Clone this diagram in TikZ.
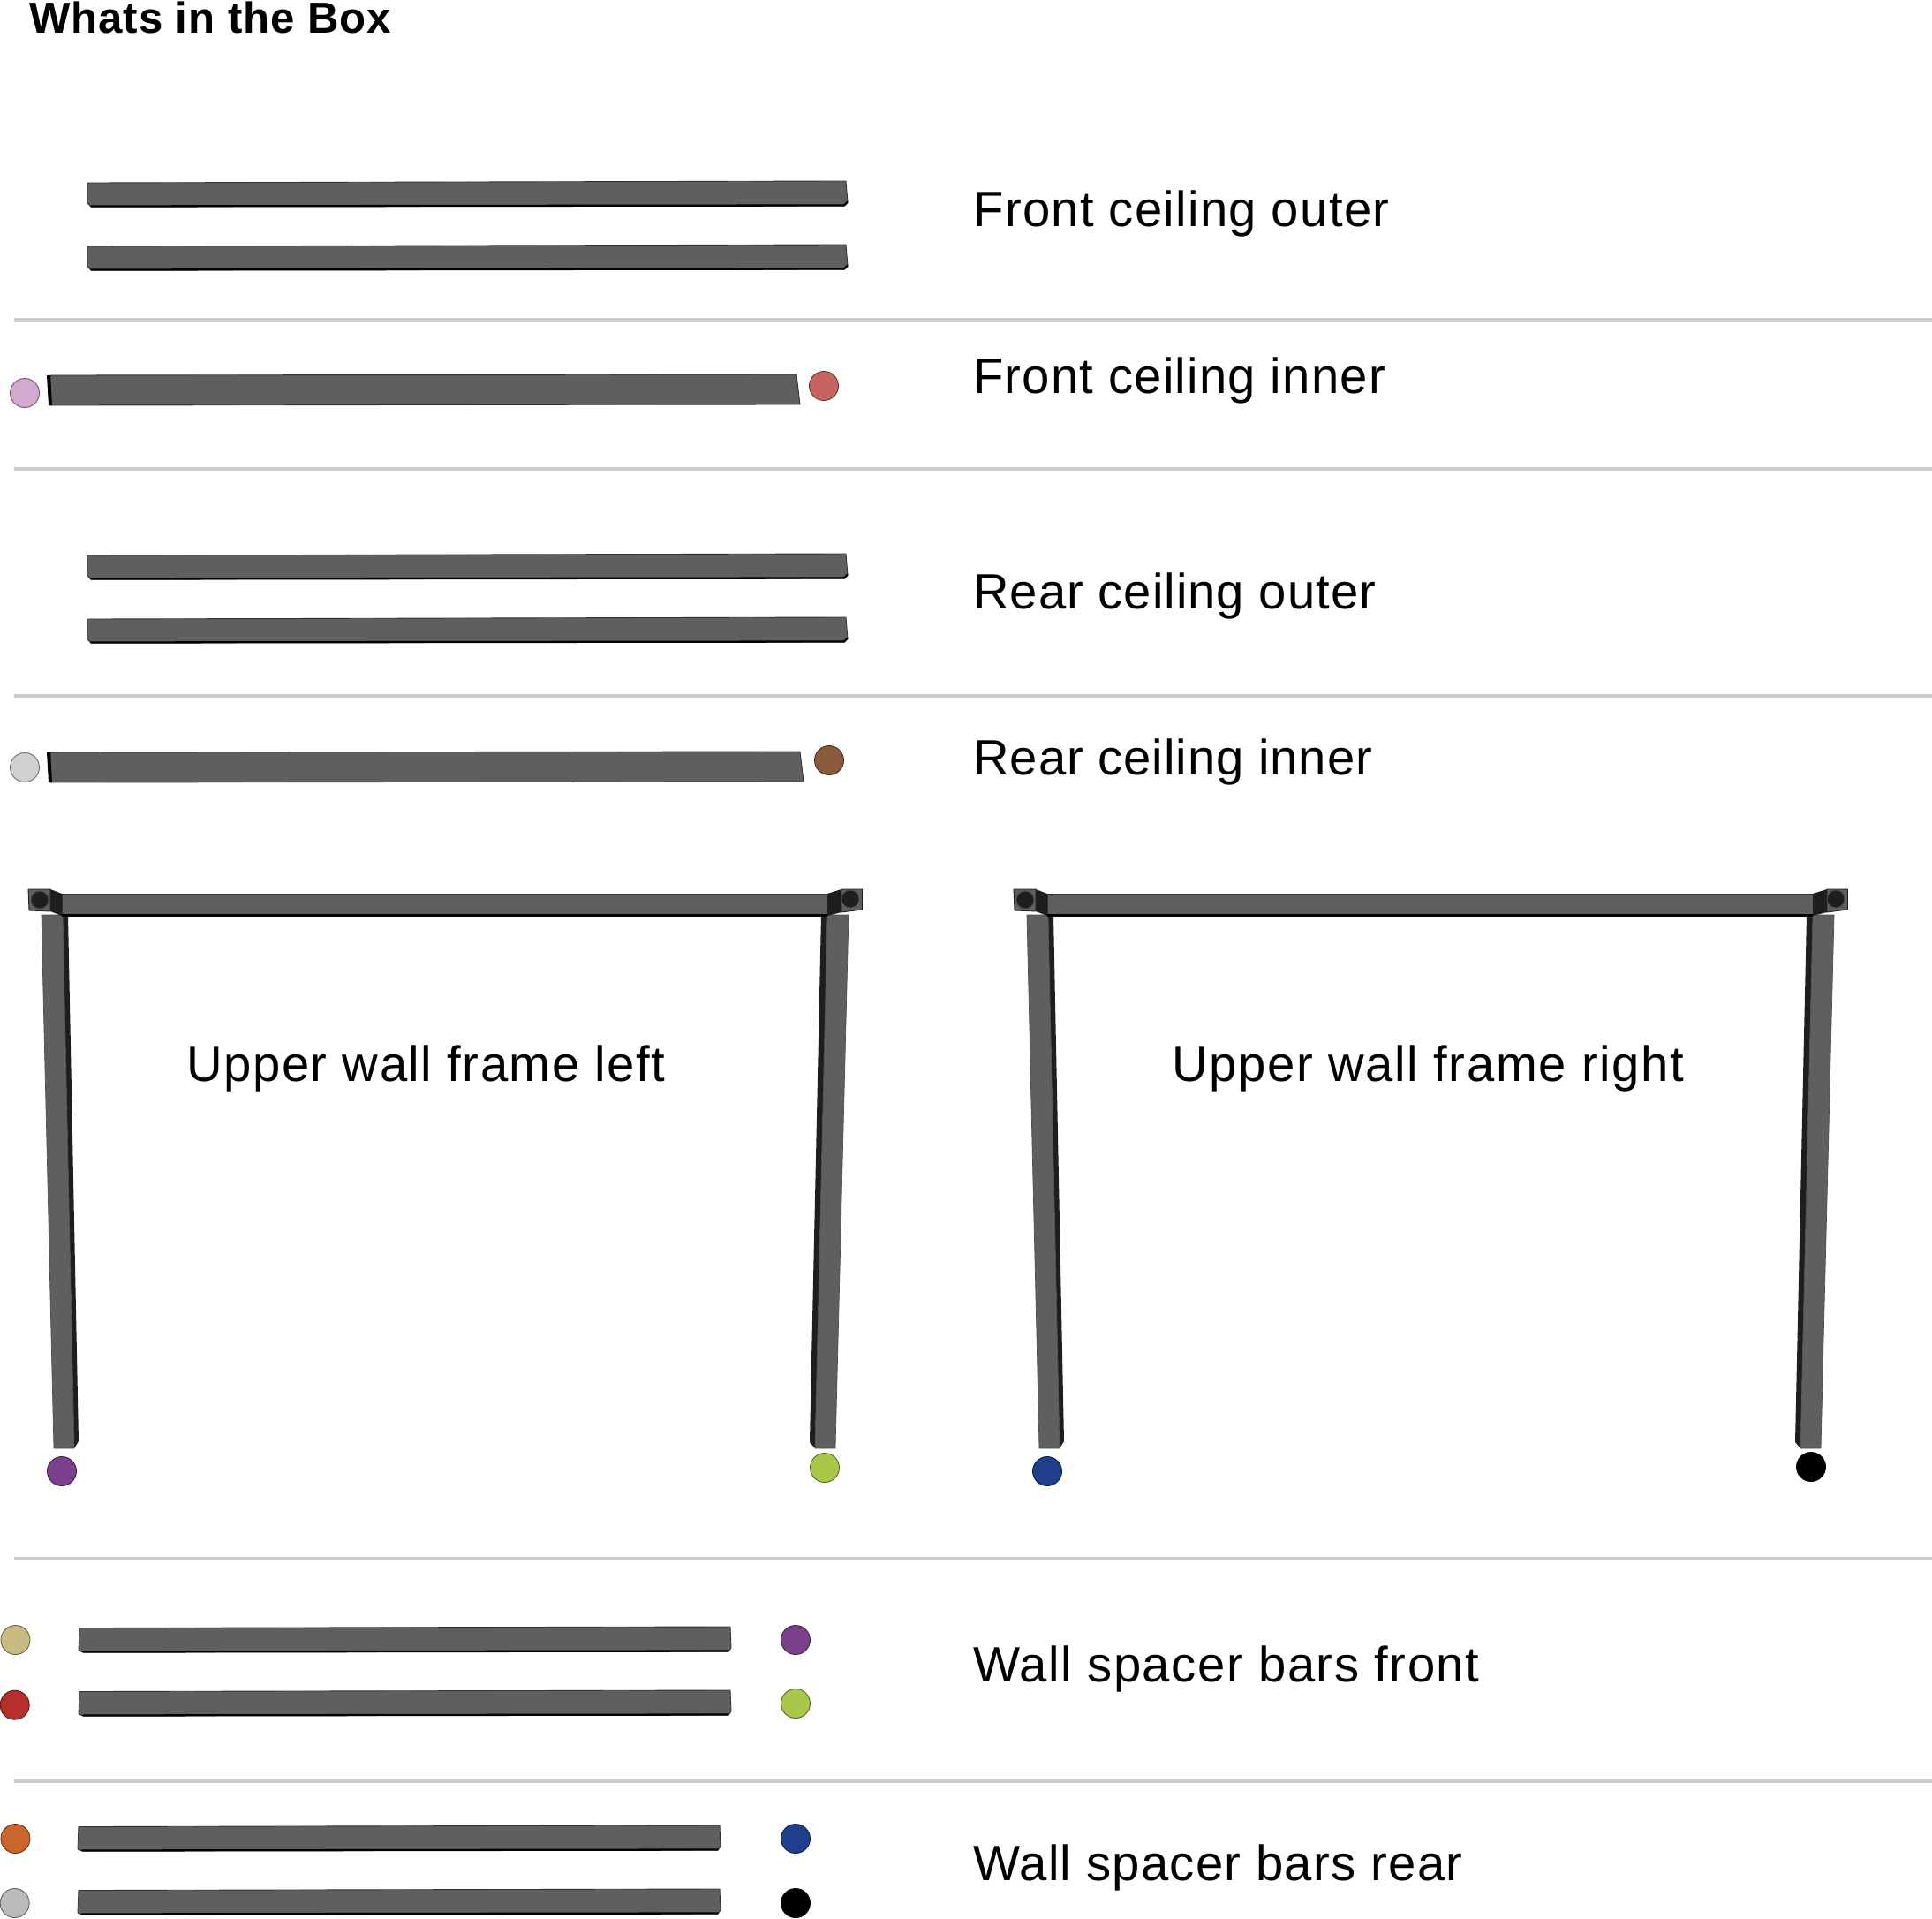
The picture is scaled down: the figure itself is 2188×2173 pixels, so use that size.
\documentclass[tikz,border=0pt]{standalone}
\usepackage{fontspec}
\setmainfont[LetterSpace=1.8]{Liberation Sans}
\definecolor{barfill}{HTML}{5F5F5F}
\definecolor{bardark}{HTML}{1E1E1E}
\definecolor{rulecol}{HTML}{CCCCCC}
\definecolor{pegpink}{HTML}{D3A9CF}
\definecolor{pegrose}{HTML}{C66464}
\definecolor{peglight}{HTML}{D0D0D0}
\definecolor{pegbrown}{HTML}{8B5A3C}
\definecolor{pegpurple}{HTML}{7B3F8C}
\definecolor{peglime}{HTML}{A9C84A}
\definecolor{pegblue}{HTML}{1F3F8C}
\definecolor{pegkhaki}{HTML}{C9BC82}
\definecolor{pegred}{HTML}{B5302A}
\definecolor{pegorange}{HTML}{C8662C}
\definecolor{peggray}{HTML}{BBBBBB}
\newcommand{\spaced}[2]{\addfontfeature{LetterSpace=#1}#2}
\tikzset{
 x=0.02cm,y=-0.02cm,
 barshape/.style={fill=barfill,draw=black!80,line width=0.5pt,line join=round},
 edgeline/.style={draw=black,line width=1.3pt,line cap=round},
 sepline/.style={draw=rulecol,line width=2.4pt},
 partlabel/.style={anchor=base west,inner sep=0pt,font=\fontsize{32}{32}\selectfont,text=black},
 titlelabel/.style={anchor=base west,inner sep=0pt,font=\fontsize{28}{28}\selectfont\bfseries,text=black},
 peg/.style={circle,inner sep=0pt,minimum size=0.66cm,draw=#1!50!black,fill=#1,line width=0.5pt},
}
\newcommand{\outerbar}[1]{%
 \draw[barshape] (99,#1+2) -- (958,#1) -- (960,#1+24) -- (956,#1+28) -- (103,#1+29) -- (99,#1+25) -- cycle;
 \draw[edgeline] (103,#1+28.5) -- (956,#1+27.5) -- (959.5,#1+24);}
\newcommand{\innerbar}[2]{%
 \draw[barshape] (57,#1+1) -- (#2,#1) -- (#2+4,#1+34) -- (57,#1+35) -- cycle;
 \fill[black] (53,#1+1) -- (57,#1+1) -- (59,#1+35) -- (55,#1+35) -- cycle;}
\newcommand{\spacerbar}[3]{%
 \draw[barshape] (#1+1,#3+1.5) -- (#2-1,#3) -- (#2,#3+24) -- (#2-3,#3+28) -- (#1+5,#3+29) -- (#1,#3+27) -- cycle;
 \draw[edgeline] (#1+5,#3+28.5) -- (#2-3,#3+27.5);}
\newcommand{\wallframe}[1]{%
 \begin{scope}[shift={(#1,0)}]
 \fill[bardark] (71,1036) -- (77,1036) -- (89,1632) -- (84,1640) -- cycle;
 \draw[fill=barfill,draw=barfill!80!black,line width=0.4pt] (47,1036) -- (71,1036) -- (84,1640) -- (61,1640) -- cycle;
 \fill[bardark] (930,1036) -- (937,1036) -- (923,1640) -- (917,1633) -- cycle;
 \draw[fill=barfill,draw=barfill!80!black,line width=0.4pt] (937,1036) -- (961,1036) -- (946,1640) -- (923,1640) -- cycle;
 \draw[fill=barfill,draw=black!80,line width=0.5pt] (70,1012) -- (937,1012) -- (937,1036) -- (70,1036) -- cycle;
 \fill[black] (70,1035) rectangle (937,1037.5);
 \fill[bardark] (57,1007) -- (70,1012) -- (70,1037) -- (57,1032) -- cycle;
 \draw[fill=barfill,draw=bardark,line width=0.5pt] (32,1007) -- (57,1007) -- (57,1032) -- (33,1031) -- cycle;
 \draw[fill=bardark,draw=black!70,line width=0.5pt] (45,1019) circle (10);
 \fill[bardark] (937,1012) -- (953,1007) -- (953,1033) -- (937,1037) -- cycle;
 \draw[fill=barfill,draw=bardark,line width=0.5pt] (953,1007) -- (976.5,1007) -- (976.5,1030) -- (953,1033) -- cycle;
 \draw[fill=bardark,draw=black!70,line width=0.5pt] (963,1018) circle (10);
 \end{scope}}
\begin{document}
\begin{tikzpicture}
\useasboundingbox (0,0) rectangle (2188,2173);
\node[titlelabel] (title) at (33,38) {Whats in the Box};

\draw[sepline] (16,362.5) -- (2188,362.5);
\draw[sepline] (16,531) -- (2188,531);
\draw[sepline] (16,788) -- (2188,788);
\draw[sepline] (16,1765) -- (2188,1765);
\draw[sepline] (16,2017) -- (2188,2017);

\outerbar{205} \outerbar{277}
\innerbar{424}{902}
\outerbar{627} \outerbar{699}
\innerbar{851}{906}
\wallframe{0} \wallframe{1116}
\spacerbar{89}{828}{1842} \spacerbar{89}{828}{1914}
\spacerbar{88}{816}{2067} \spacerbar{88}{816}{2139}

\node[peg=pegpink] (p1) at (28,445) {};
\node[peg=pegrose] (p2) at (933,437) {};
\node[peg=peglight] (p3) at (28,869) {};
\node[peg=pegbrown] (p4) at (939,861) {};
\node[peg=pegpurple] (p5) at (70,1666) {};
\node[peg=peglime] (p6) at (934,1662) {};
\node[peg=pegblue] (p7) at (1186,1666) {};
\node[peg=black] (p8) at (2051,1661) {};
\node[peg=pegkhaki] (p9) at (17.5,1857) {};
\node[peg=pegred] (p10) at (16.7,1930.7) {};
\node[peg=pegpurple] (p11) at (901,1857) {};
\node[peg=peglime] (p12) at (901,1929) {};
\node[peg=pegorange] (p13) at (17.5,2082) {};
\node[peg=peggray] (p14) at (16.7,2155) {};
\node[peg=pegblue] (p15) at (901,2082) {};
\node[peg=black] (p16) at (901,2155) {};

\node[partlabel] (l1) at (1102,256) {\spaced{2.35}{Front ceiling outer}};
\node[partlabel] (l2) at (1102,445) {\spaced{2.2}{Front ceiling inner}};
\node[partlabel] (l3) at (1102,689) {\spaced{1.8}{Rear ceiling outer}};
\node[partlabel] (l4) at (1102,877) {\spaced{1.7}{Rear ceiling inner}};
\node[partlabel] (l5) at (211,1224) {\spaced{2.8}{Upper wall frame left}};
\node[partlabel] (l6) at (1327,1224) {\spaced{3.0}{Upper wall frame right}};
\node[partlabel] (l7) at (1102,1904) {\spaced{2.8}{Wall spacer bars front}};
\node[partlabel] (l8) at (1102,2129) {\spaced{2.3}{Wall spacer bars rear}};
\end{tikzpicture}
\end{document}
